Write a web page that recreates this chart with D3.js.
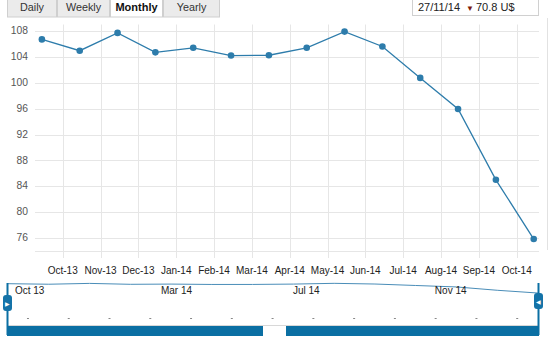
<!DOCTYPE html>
<html><head><meta charset="utf-8">
<script src="https://cdn.jsdelivr.net/npm/d3@7/dist/d3.min.js"></script>
<style>
body{margin:0;background:#fff;}
svg{display:block;font-family:"Liberation Sans",Arial,Helvetica,sans-serif;}
</style>
</head><body>
<svg id="c" width="550" height="338"></svg>
<script>
// ---- data ----
const months = ["Sep-13","Oct-13","Nov-13","Dec-13","Jan-14","Feb-14","Mar-14","Apr-14","May-14","Jun-14","Jul-14","Aug-14","Sep-14","Oct-14"];
const values = [106.7,104.95,107.7,104.7,105.4,104.2,104.25,105.4,107.9,105.6,100.75,95.95,85.0,75.85];
const tickLabels = ["Oct-13","Nov-13","Dec-13","Jan-14","Feb-14","Mar-14","Apr-14","May-14","Jun-14","Jul-14","Aug-14","Sep-14","Oct-14"];
const yTicks = [76,80,84,88,92,96,100,104,108];
const buttons = ["Daily","Weekly","Monthly","Yearly"];
const selectedButton = "Monthly";
const tooltipDate = "27/11/14";
const tooltipValue = "70.8 U$";
const navLabels = ["Oct 13","Mar 14","Jul 14","Nov 14"];
const navLabelAt = [0.62,4.2,7.44,10.92];

// ---- layout ----
const svg = d3.select("#c");
const plotL = 35, plotR = 539, plotT = 24.5, plotB = 251;
const x = d3.scaleLinear().domain([1,13]).range([62.7,516.7]);
const y = d3.scaleLinear().domain([74,109]).range([plotB,plotT]);
const pointOffset = 0.45;
const lineColor = "#2d7cab";
const gridColor = "#e6e6e6";

// grid
const g = svg.append("g");
g.selectAll("line.h").data(yTicks.concat([74])).join("line")
  .attr("x1",plotL).attr("x2",plotR)
  .attr("y1",d=>Math.round(y(d))+0.5).attr("y2",d=>Math.round(y(d))+0.5)
  .attr("stroke",gridColor).attr("stroke-width",1);
g.selectAll("line.v").data(tickLabels).join("line")
  .attr("x1",(d,i)=>Math.round(x(i+1))+0.5).attr("x2",(d,i)=>Math.round(x(i+1))+0.5)
  .attr("y1",plotT).attr("y2",plotB+7)
  .attr("stroke",gridColor).attr("stroke-width",1);

// y labels
g.selectAll("text.y").data(yTicks).join("text")
  .attr("x",28).attr("y",d=>y(d)+3.2)
  .attr("text-anchor","end").attr("font-size",10.3).attr("fill","#555")
  .text(d=>d);
// x labels
g.selectAll("text.x").data(tickLabels).join("text")
  .attr("x",(d,i)=>x(i+1)).attr("y",273.8)
  .attr("text-anchor","middle").attr("font-size",10).attr("fill","#222")
  .text(d=>d);

// series
const line = d3.line().x((d,i)=>x(i+pointOffset)).y(d=>y(d));
svg.append("path").datum(values).attr("d",line)
  .attr("fill","none").attr("stroke",lineColor).attr("stroke-width",1.3);
svg.selectAll("circle.p").data(values).join("circle")
  .attr("cx",(d,i)=>x(i+pointOffset)).attr("cy",d=>y(d)).attr("r",3.3)
  .attr("fill",lineColor);

// right border
svg.append("line").attr("x1",547.5).attr("x2",547.5).attr("y1",18).attr("y2",250)
  .attr("stroke","#e2e2e2");

// buttons
const btnW = [50,53,53,57];
let bx = 7;
buttons.forEach((b,i)=>{
  const sel = b===selectedButton;
  svg.append("rect").attr("x",bx+0.5).attr("y",-2).attr("width",btnW[i]-1).attr("height",19)
    .attr("fill",sel?"#fff":"#ebebeb").attr("stroke","#cfcfcf");
  svg.append("text").attr("x",bx+btnW[i]/2).attr("y",10.5).attr("text-anchor","middle")
    .attr("font-size",sel?11:10.8).attr("font-weight",sel?"bold":"normal")
    .attr("fill",sel?"#111":"#333").text(b);
  bx += btnW[i];
});

// tooltip box
svg.append("rect").attr("x",412.5).attr("y",-2).attr("width",126).attr("height",17.5)
  .attr("fill","#fff").attr("stroke","#d0d0d0");
svg.append("text").attr("x",418).attr("y",11).attr("font-size",11).attr("fill","#222").text(tooltipDate);
svg.append("text").attr("x",466).attr("y",10.5).attr("font-size",8).attr("fill","#7d1a0e").text("\u25BC");
svg.append("text").attr("x",476).attr("y",11).attr("font-size",11).attr("fill","#222").text(tooltipValue);

// ---- navigator ----
const navX = d3.scaleLinear().domain([pointOffset, values.length-1+pointOffset]).range([8,538]);
const navY = d3.scaleLinear().domain([74,109]).range([293.6,283]);
const navLine = d3.line().x((d,i)=>navX(i+pointOffset)).y(d=>navY(d));
svg.append("path").datum(values).attr("d",navLine)
  .attr("fill","none").attr("stroke","#4a8db8").attr("stroke-width",1);
svg.selectAll("text.nav").data(navLabels).join("text")
  .attr("x",(d,i)=>navX(navLabelAt[i])).attr("y",293.5)
  .attr("font-size",10).attr("fill","#222").text(d=>d);
// dashes
svg.selectAll("line.dash").data(tickLabels).join("line")
  .attr("x1",(d,i)=>navX(i+1-0.06)-1).attr("x2",(d,i)=>navX(i+1-0.06)+1)
  .attr("y1",318.5).attr("y2",318.5).attr("stroke","#888");
// scrollbar track
svg.append("line").attr("x1",7).attr("x2",539).attr("y1",325.5).attr("y2",325.5).attr("stroke","#d8d8d8");
const barColor = "#0b6fa3";
svg.append("rect").attr("x",7).attr("y",326).attr("width",256).attr("height",10).attr("fill",barColor);
svg.append("rect").attr("x",286).attr("y",326).attr("width",253).attr("height",10).attr("fill",barColor);
// handles
[[7.5,295,"\u25B6"],[538.5,293,"\u25C0"]].forEach(([hx,hy,ch])=>{
  svg.append("line").attr("x1",hx).attr("x2",hx).attr("y1",283).attr("y2",335)
    .attr("stroke",barColor).attr("stroke-width",2);
  svg.append("rect").attr("x",hx-4.5).attr("y",hy).attr("width",9).attr("height",16).attr("rx",3)
    .attr("fill","#1473a8");
  svg.append("text").attr("x",hx).attr("y",hy+10.5).attr("text-anchor","middle")
    .attr("font-size",6).attr("fill","#fff").text(ch);
});
</script>
</body></html>
